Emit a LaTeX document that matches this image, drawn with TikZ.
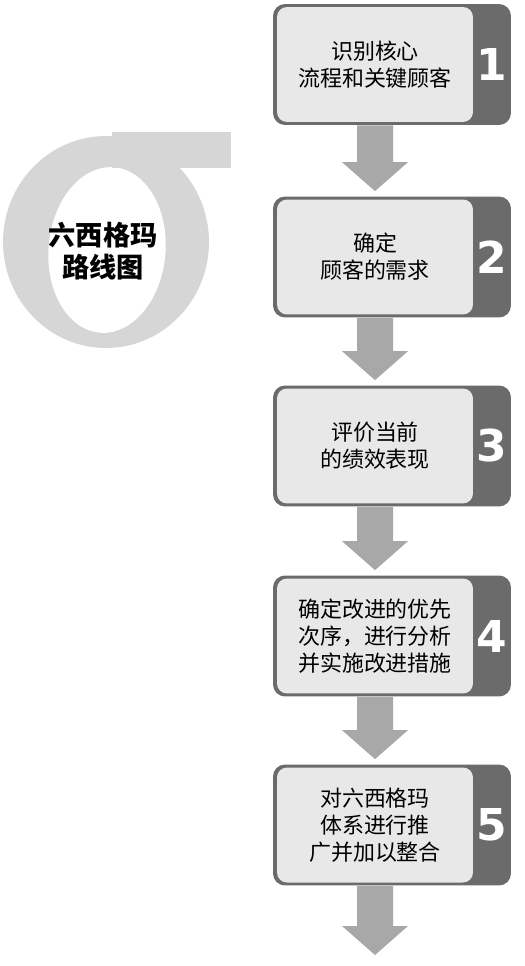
\documentclass[tikz,border=0pt]{standalone}
\usepackage{fontspec}
\newfontfamily\cjk{Noto Sans CJK SC}
\newfontfamily\numfont{DejaVu Sans}
\usepackage{tikz}
\usetikzlibrary{positioning,calc}
\definecolor{framec}{HTML}{6B6B6B}
\definecolor{panelc}{HTML}{E8E8E8}
\definecolor{arrowc}{HTML}{A8A8A8}
\definecolor{sigmac}{HTML}{D6D6D6}
\tikzset{
  outerbox/.style={fill=framec,rounded corners=0.24cm,minimum width=4.76cm,minimum height=2.42cm,inner sep=0pt},
  innerbox/.style={fill=panelc,rounded corners=0.2cm,minimum width=3.92cm,minimum height=2.3cm,inner sep=0pt,
    align=center,font=\cjk\fontsize{12.5}{15.4}\selectfont},
  numlab/.style={text=white,font=\numfont\bfseries\fontsize{25}{25}\selectfont,inner sep=0pt},
  titlelab/.style={align=center,font=\cjk\bfseries\fontsize{15.5}{18}\selectfont,inner sep=0pt}
}
\newcommand{\stepbox}[4]{%
  \node[outerbox] (o#1) at (392,#2) {};
  \node[innerbox] (s#1) at (375,#2) {#3};
  \node[numlab] (n#1) at (492,#2) {#4};
}
\newcommand{\blockarrow}[2]{%
  \fill[arrowc] ($(#1)+(-18,0)$) -- ($(#1)+(18,0)$) -- ($(#2)+(18,-29)$) -- ($(#2)+(33,-29)$)
    -- (#2) -- ($(#2)+(-33,-29)$) -- ($(#2)+(-18,-29)$) -- cycle;
}

\begin{document}
\begin{tikzpicture}[x=0.02cm,y=-0.02cm]
  \useasboundingbox (0,0) rectangle (524,966);
  % sigma sign behind the title
  \fill[sigmac] (106,242) ellipse [x radius=2.06cm, y radius=2.12cm];
  \begin{scope}[shift={(107,250)},rotate=-5]
    \fill[white] (0,0) ellipse [x radius=1.17cm, y radius=1.66cm];
  \end{scope}
  \fill[sigmac] (112,132) rectangle (231,168);
  \node[titlelab] (title) at (103,251) {六西格玛\\路线图};
  % the five steps
  \foreach \i/\y/\txt in {1/64.5/{识别核心\\流程和关键顾客},2/257/{确定\\顾客的需求},3/446/{评价当前\\的绩效表现},
      4/636/{确定改进的优先\\次序，进行分析\\并实施改进措施},5/825/{对六西格玛\\体系进行推\\广并加以整合}}
    {\stepbox{\i}{\y}{\txt}{\i}}
  \foreach \i/\j in {1/2,2/3,3/4,4/5} {
    \coordinate (a\i) at (o\i.south -| s\i.center);
    \coordinate (t\j) at ($(o\j.north -| s\j.center)+(0,-5)$);
    \blockarrow{a\i}{t\j}
  }
  \coordinate (a5) at (o5.south -| s5.center);
  \coordinate (tend) at (375,955);
  \blockarrow{a5}{tend}
\end{tikzpicture}
\end{document}
